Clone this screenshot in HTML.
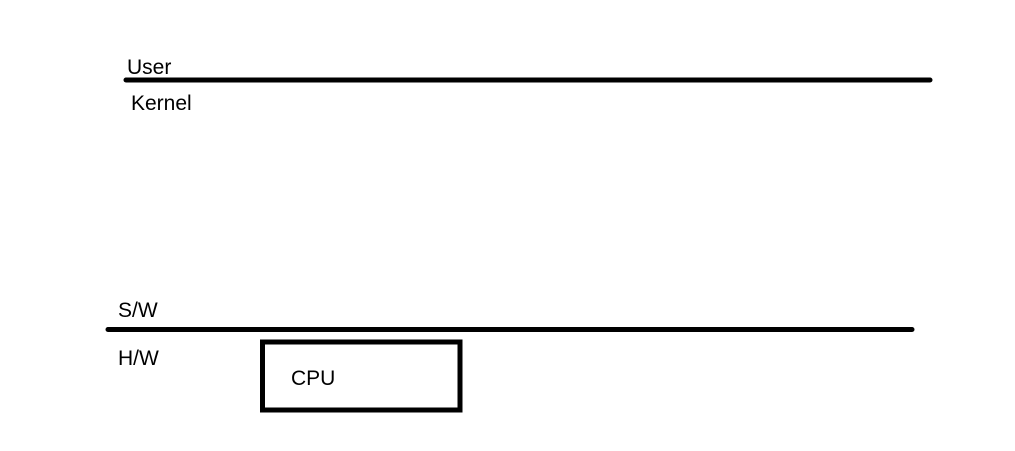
<!DOCTYPE html>
<html><head><meta charset="utf-8"><style>
html,body{margin:0;padding:0;background:#fff;width:1015px;height:451px;overflow:hidden}
text{font-family:"Liberation Sans",sans-serif;font-size:21px;fill:#000}
</style></head><body>
<svg width="1015" height="451" xmlns="http://www.w3.org/2000/svg">
<line x1="126" y1="80" x2="930" y2="80" stroke="#000" stroke-width="5" stroke-linecap="round"/>
<line x1="108" y1="329.5" x2="912" y2="329.5" stroke="#000" stroke-width="5" stroke-linecap="round"/>
<rect x="262.5" y="342" width="197.5" height="68" fill="none" stroke="#000" stroke-width="5"/>
<text x="127" y="74">User</text>
<text x="131" y="110">Kernel</text>
<text x="118" y="317">S/W</text>
<text x="118" y="365">H/W</text>
<text x="291" y="385">CPU</text>
</svg>
</body></html>
